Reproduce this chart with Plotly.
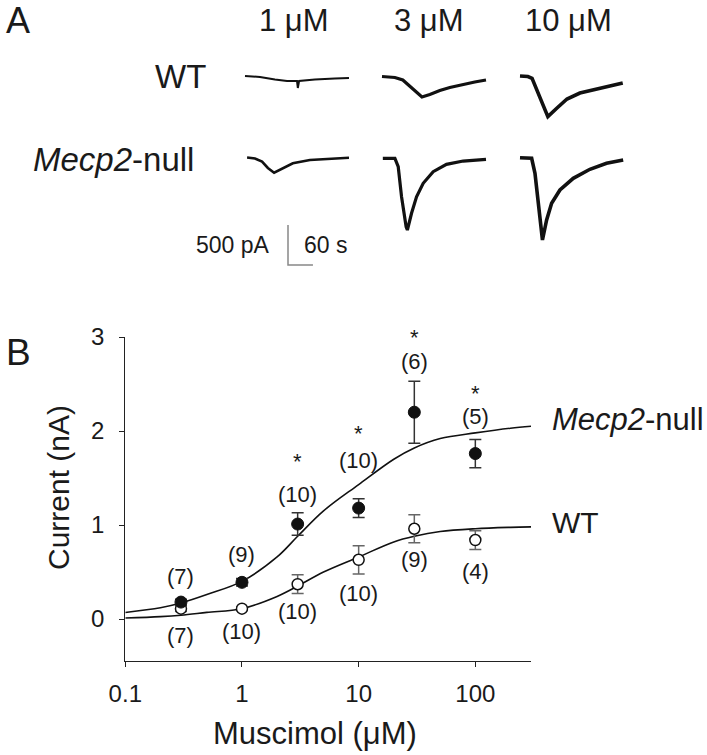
import math
import plotly.graph_objects as go

# ---------------- DATA ----------------
# Panel B: concentration-response
conc = [0.3, 1, 3, 10, 30, 100]
mecp2_mean = [0.18, 0.39, 1.01, 1.18, 2.20, 1.76]
mecp2_sem = [0.03, 0.04, 0.12, 0.10, 0.33, 0.15]
mecp2_n = ["(7)", "(9)", "(10)", "(10)", "(6)", "(5)"]
mecp2_sig = ["", "", "*", "*", "*", "*"]
wt_mean = [0.11, 0.11, 0.37, 0.63, 0.96, 0.84]
wt_sem = [0.03, 0.02, 0.10, 0.15, 0.15, 0.10]
wt_n = ["(7)", "(10)", "(10)", "(10)", "(9)", "(4)"]

# fitted curves
fit_conc = [0.1, 0.2, 0.3, 0.5, 1, 2, 3, 5, 10, 20, 30, 50, 100, 200, 300]
mecp2_fit = [0.07, 0.12, 0.17, 0.26, 0.40, 0.66, 0.88, 1.15, 1.43, 1.70, 1.82, 1.92, 1.98, 2.03, 2.05]
wt_fit = [0.01, 0.025, 0.04, 0.07, 0.11, 0.24, 0.35, 0.50, 0.66, 0.82, 0.88, 0.93, 0.96, 0.975, 0.98]

x_ticks = [0.1, 1, 10, 100]
x_ticklabels = ["0.1", "1", "10", "100"]
y_ticks = [0, 1, 2, 3]

# Panel A: example current traces (time in s, current in pA)
dose_labels = ["1 μM", "3 μM", "10 μM"]
row_labels = ["WT", "<i>Mecp2</i>-null"]
wt1_t = [0, 36, 72, 101, 125, 127, 130, 168, 216, 250]
wt1_i = [12, 0, -31, -50, -50, -137, -50, -31, -19, -12]
wt3_t = [0, 31, 50, 72, 86, 96, 115, 139, 163, 194, 223, 250]
wt3_i = [6, -6, -38, -138, -213, -250, -219, -169, -131, -91, -63, -38]
wt10_t = [0, 19, 29, 43, 60, 67, 89, 113, 144, 185, 247]
wt10_i = [12, 6, -16, -200, -413, -496, -388, -275, -200, -150, -75]
ko1_t = [5, 24, 41, 55, 70, 91, 115, 156, 204, 250]
ko1_i = [6, -6, -46, -125, -184, -129, -66, -25, -6, 4]
ko3_t = [2, 31, 39, 47, 58, 61, 71, 83, 99, 123, 155, 195, 250]
ko3_i = [-4, -4, -109, -484, -859, -900, -691, -484, -316, -171, -79, -38, -16]
ko10_t = [0, 28, 36, 44, 50, 54, 64, 76, 96, 128, 168, 208, 248]
ko10_i = [4, -4, -191, -566, -900, -1025, -775, -566, -400, -254, -141, -66, -25]
scale_current = 500  # pA
scale_time = 60      # s

# ---------------- LAYOUT HELPERS ----------------
W, H = 707, 755
FONT = "Arial, Liberation Sans, Helvetica, sans-serif"
TXT = "#1a1a1a"


def px_x(p):
    return p / W


def px_y(p):
    return 1 - p / H


fig = go.Figure()

# ---------------- PANEL B ----------------
fig.add_trace(go.Scatter(x=fit_conc, y=wt_fit, mode="lines", line=dict(color="#111", width=1.6, shape="spline"),
                         xaxis="x", yaxis="y", showlegend=False, hoverinfo="skip"))
fig.add_trace(go.Scatter(x=fit_conc, y=mecp2_fit, mode="lines", line=dict(color="#111", width=1.6, shape="spline"),
                         xaxis="x", yaxis="y", showlegend=False, hoverinfo="skip"))
fig.add_trace(go.Scatter(x=conc, y=wt_mean, mode="markers",
                         error_y=dict(type="data", array=wt_sem, color="#666", thickness=1.5, width=6),
                         marker=dict(symbol="circle", size=11, color="white", line=dict(color="#111", width=1.5)),
                         xaxis="x", yaxis="y", showlegend=False))
fig.add_trace(go.Scatter(x=conc, y=mecp2_mean, mode="markers",
                         error_y=dict(type="data", array=mecp2_sem, color="#333", thickness=1.5, width=6),
                         marker=dict(symbol="circle", size=12, color="#111", line=dict(color="#111", width=1)),
                         xaxis="x", yaxis="y", showlegend=False))

# ---------------- PANEL A traces ----------------
col_px = [245, 382, 520]      # left pixel of each trace column
col_w = 104                   # px for 250 s
s_per_px = 250 / col_w
pA_per_px = 12.5
row_base_px = [77, 158]
row_top_px = [64, 146]
row_bot_px = [147, 252]

cells = [
    (0, 0, wt1_t, wt1_i, 2.0),
    (0, 1, wt3_t, wt3_i, 3.2),
    (0, 2, wt10_t, wt10_i, 3.6),
    (1, 0, ko1_t, ko1_i, 2.6),
    (1, 1, ko3_t, ko3_i, 3.2),
    (1, 2, ko10_t, ko10_i, 3.6),
]

layout_axes = {}
pad_s = 10
for k, (r, c, tt, ii, lw) in enumerate(cells):
    idx = k + 2
    fig.add_trace(go.Scatter(x=tt, y=ii, mode="lines", line=dict(color="#111", width=lw),
                             xaxis=f"x{idx}", yaxis=f"y{idx}", showlegend=False, hoverinfo="skip"))
    x0 = col_px[c] - pad_s / s_per_px
    x1 = col_px[c] + col_w + pad_s / s_per_px
    top, bot, base = row_top_px[r], row_bot_px[r], row_base_px[r]
    layout_axes[f"xaxis{idx}"] = dict(domain=[px_x(x0), px_x(x1)], range=[-pad_s, 250 + pad_s],
                                      visible=False, anchor=f"y{idx}", fixedrange=True, automargin=False)
    layout_axes[f"yaxis{idx}"] = dict(domain=[px_y(bot), px_y(top)],
                                      range=[-(bot - base) * pA_per_px, (base - top) * pA_per_px],
                                      visible=False, anchor=f"x{idx}", fixedrange=True, automargin=False)

# scale bar
sb = 8
fig.add_trace(go.Scatter(x=[0, 0, scale_time], y=[0, -scale_current, -scale_current], mode="lines",
                         line=dict(color="#888", width=1.5), xaxis="x8", yaxis="y8",
                         showlegend=False, hoverinfo="skip"))
sb_x0, sb_y0 = 288, 225  # top of vertical bar
sb_wpx = scale_time / s_per_px
sb_hpx = scale_current / pA_per_px
layout_axes["xaxis8"] = dict(domain=[px_x(sb_x0 - sb), px_x(sb_x0 + sb_wpx + sb)],
                             range=[-sb * s_per_px, scale_time + sb * s_per_px],
                             visible=False, anchor="y8", fixedrange=True, automargin=False)
layout_axes["yaxis8"] = dict(domain=[px_y(sb_y0 + sb_hpx + sb), px_y(sb_y0 - sb)],
                             range=[-scale_current - sb * pA_per_px, sb * pA_per_px],
                             visible=False, anchor="x8", fixedrange=True, automargin=False)

# ---------------- ANNOTATIONS ----------------
ann = []


def paper_text(text, x, y, size, xanchor="center", angle=0):
    ann.append(dict(text=text, x=px_x(x), y=px_y(y), xref="paper", yref="paper", showarrow=False,
                    xanchor=xanchor, yanchor="middle", textangle=angle,
                    font=dict(family=FONT, size=size, color=TXT)))


paper_text("A", 18, 21, 36)
paper_text("B", 18, 352, 37)
for lab, cx in zip(dose_labels, [294, 429, 568]):
    paper_text(lab, cx, 21, 31)
paper_text(row_labels[0], 208, 76, 33, xanchor="right")
paper_text(row_labels[1], 196, 159, 33, xanchor="right")
paper_text("500 pA", 272, 245, 23, xanchor="right")
paper_text("60 s", 302, 245, 23, xanchor="left")
paper_text("<i>Mecp2</i>-null", 550, 420, 31, xanchor="left")
paper_text("WT", 550, 522, 30, xanchor="left")
paper_text("Current (nA)", 58, 488, 30, angle=-90)
paper_text("Muscimol (μM)", 315, 733, 31)

mecp2_shift = [26, 28, 30, 48, 51, 37]
star_shift = [0, 0, 63, 75, 75, 60]
wt_shift = [-27, -23, -27, -34, -31, -31]
for i in range(len(conc)):
    lx = math.log10(conc[i])
    ann.append(dict(text=mecp2_n[i], x=lx, y=mecp2_mean[i], xref="x", yref="y", yshift=mecp2_shift[i],
                    showarrow=False, font=dict(family=FONT, size=22, color=TXT)))
    if mecp2_sig[i]:
        ann.append(dict(text=mecp2_sig[i], x=lx, y=mecp2_mean[i], xref="x", yref="y", yshift=star_shift[i],
                        showarrow=False, font=dict(family=FONT, size=22, color=TXT)))
    ann.append(dict(text=wt_n[i], x=lx, y=wt_mean[i], xref="x", yref="y", yshift=wt_shift[i],
                    showarrow=False, font=dict(family=FONT, size=22, color=TXT)))

fig.update_layout(
    template="none",
    width=W, height=H,
    autosize=False,
    margin=dict(l=0, r=0, t=0, b=0, pad=0, autoexpand=False),
    paper_bgcolor="white", plot_bgcolor="rgba(0,0,0,0)",
    showlegend=False,
    font=dict(family=FONT, color=TXT),
    xaxis=dict(type="log", domain=[px_x(125.3), px_x(531)], range=[-1, math.log10(300)],
               tickvals=x_ticks, ticktext=x_ticklabels, showline=True, linecolor="#222", linewidth=1.2,
               ticks="outside", ticklen=5, tickcolor="#222", tickwidth=1.2, showgrid=False, zeroline=False,
               tickfont=dict(family=FONT, size=24, color=TXT), ticklabelstandoff=6, anchor="y",
               fixedrange=True, automargin=False),
    yaxis=dict(domain=[px_y(661.3), px_y(337)], range=[-0.45, 3.0], tickvals=y_ticks,
               showline=True, linecolor="#222", linewidth=1.2, ticks="outside", ticklen=5, tickcolor="#222",
               tickwidth=1.2, showgrid=False, zeroline=False,
               tickfont=dict(family=FONT, size=24, color=TXT), ticklabelstandoff=10, anchor="x",
               fixedrange=True, automargin=False),
    annotations=ann,
    **layout_axes,
)

fig.write_html("out.html", config={"displayModeBar": False},
               post_script="document.body.style.margin='0';document.body.style.padding='0';")
